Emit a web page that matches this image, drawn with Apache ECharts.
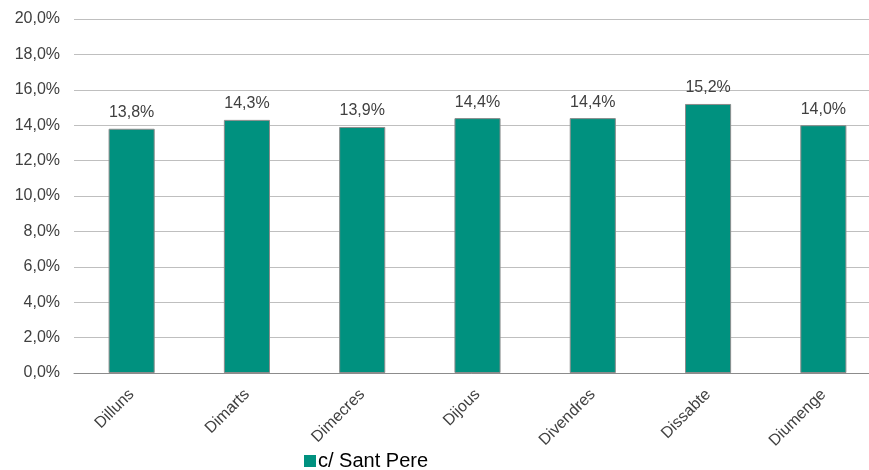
<!DOCTYPE html>
<html><head><meta charset="utf-8">
<script src="https://cdn.jsdelivr.net/npm/echarts@6/dist/echarts.min.js"></script>
<style>html,body{margin:0;padding:0;background:#fff}#c{width:869px;height:470px}</style>
</head><body><div id="c"></div>
<script>
const categories = ['Dilluns','Dimarts','Dimecres','Dijous','Divendres','Dissabte','Diumenge'];
const values = [13.8, 14.3, 13.9, 14.4, 14.4, 15.2, 14.0];
const seriesName = 'c/ Sant Pere';
const fmt = v => v.toFixed(1).replace('.', ',') + '%';
const FONT = 'Liberation Sans, Arial, sans-serif';
const chart = echarts.init(document.getElementById('c'));
chart.setOption({
  animation: false,
  textStyle: {fontFamily: FONT},
  grid: {left: 74, width: 807, top: 19, height: 354, containLabel: false, outerBoundsMode: 'none'},
  legend: {
    top: 446, left: 299, itemWidth: 12, itemHeight: 12, itemGap: 4,
    icon: 'rect',
    itemStyle: {borderWidth: 0},
    textStyle: {fontSize: 20, color: '#000', fontFamily: FONT, padding: [0, 0, 0, -3]},
    data: [seriesName]
  },
  xAxis: {
    type: 'category', data: categories,
    axisLine: {lineStyle: {color: '#8c8c8c', width: 1}},
    axisTick: {show: false},
    axisLabel: {rotate: 45, fontSize: 16, color: '#404040', margin: 19, interval: 0, fontFamily: FONT}
  },
  yAxis: {
    type: 'value', min: 0, max: 20, interval: 2,
    axisLine: {show: false}, axisTick: {show: false},
    splitLine: {lineStyle: {color: '#bfbfbf', width: 1}},
    axisLabel: {fontSize: 16, color: '#404040', margin: 14, fontFamily: FONT, formatter: v => fmt(v)}
  },
  series: [{
    name: seriesName, type: 'bar', data: values, barWidth: '40%',
    itemStyle: {color: '#00917f', borderColor: '#8c8c8c', borderWidth: 1},
    label: {show: true, position: 'top', distance: 8, fontSize: 16, color: '#404040', fontFamily: FONT, formatter: p => fmt(p.value)}
  }]
});
</script></body></html>
